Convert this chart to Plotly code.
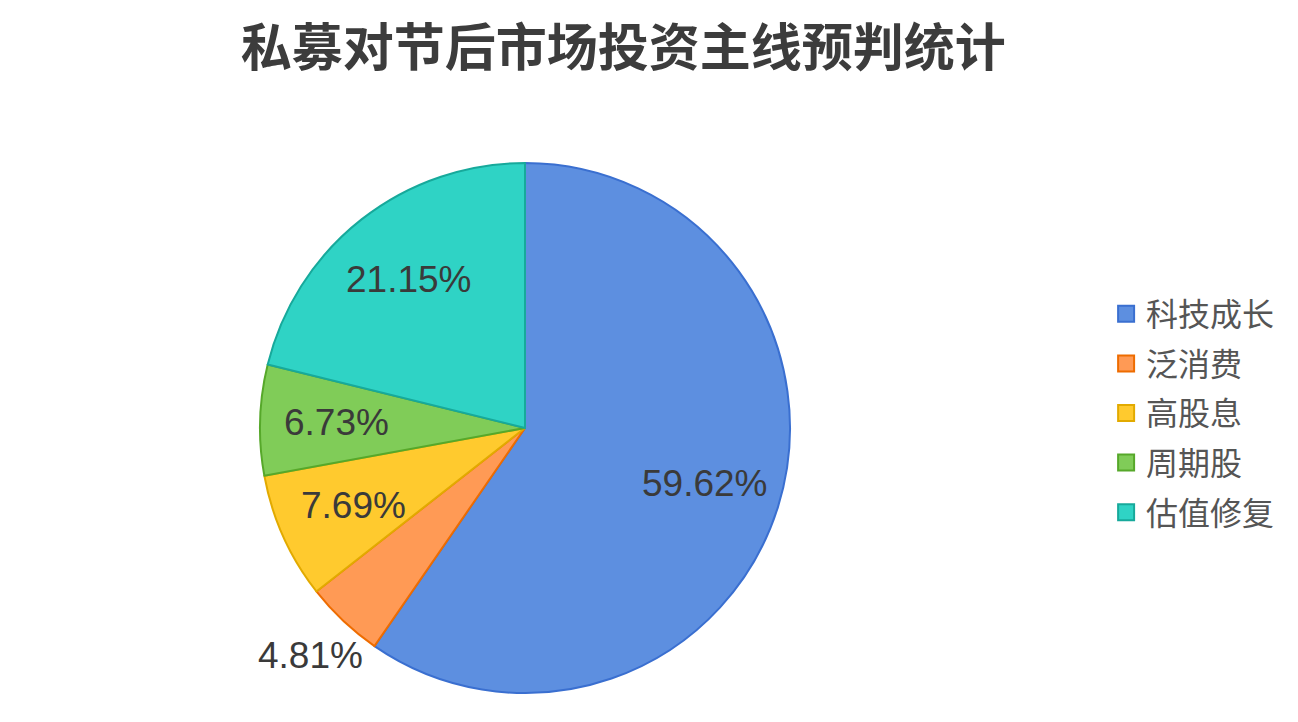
import math
import plotly.graph_objects as go

# 私募对节后市场投资主线预判统计
categories = ["科技成长", "泛消费", "高股息", "周期股", "估值修复"]
counts = [62, 5, 8, 7, 22]
label_outside = [False, True, False, False, False]

fill_colors = ["#5d8fe0", "#ff9a55", "#ffca2e", "#80cc58", "#2fd3c5"]
line_colors = ["#3a6fd0", "#ee6c00", "#e2aa00", "#56a82a", "#17a99b"]

W, H = 1298, 722
# pie placement in pixels
CX, CY, R = 517, 420, 265

fig = go.Figure()
fig.add_trace(go.Pie(
    labels=categories,
    values=counts,
    sort=False,
    direction="clockwise",
    rotation=0,
    textinfo="none",
    marker=dict(colors=fill_colors, line=dict(color=line_colors, width=2)),
    domain=dict(x=[(CX - R) / W, (CX + R) / W], y=[1 - (CY + R) / H, 1 - (CY - R) / H]),
    hoverinfo="label+percent",
    showlegend=False,
))

# legend entries as square markers so the spacing can follow the original
for i, (name, fc, lc) in enumerate(zip(categories, fill_colors, line_colors)):
    fig.add_trace(go.Scatter(
        x=[None], y=[None], mode="markers", name=name,
        marker=dict(symbol="square", size=22, color=fc, line=dict(color=lc, width=2)),
        legendgroup=f"g{i}", hoverinfo="skip",
    ))

# percent labels at slice mid angles
total = sum(counts)
cum = 0
for v, outside in zip(counts, label_outside):
    mid = (cum + v / 2) / total * 2 * math.pi
    cum += v
    r = R * (1.18 if outside else 0.71)
    px = CX + r * math.sin(mid)
    py = CY - r * math.cos(mid)
    fig.add_annotation(
        x=px / W, y=1 - py / H, xref="paper", yref="paper",
        text=f"{v / total * 100:.2f}%", showarrow=False,
        xanchor="center", yanchor="middle",
        font=dict(family="Liberation Sans, Arial, sans-serif", size=37, color="#3a3a3a"),
    )

fig.update_layout(
    width=W,
    height=H,
    margin=dict(l=0, r=0, t=0, b=0),
    paper_bgcolor="white",
    plot_bgcolor="white",
    xaxis=dict(visible=False),
    yaxis=dict(visible=False),
    title=dict(
        text="<b>私募对节后市场投资主线预判统计</b>",
        x=0.474, xanchor="center", y=0.945, yanchor="middle",
        font=dict(family="Noto Sans CJK SC", size=51, color="#3c3c3c"),
    ),
    legend=dict(
        x=0.846, xanchor="left", y=1 - 405 / H, yanchor="middle",
        font=dict(family="Noto Sans CJK SC", size=32, color="#555555"),
        tracegroupgap=5,
        itemsizing="trace",
    ),
    showlegend=True,
)

fig.write_html("out.html")
